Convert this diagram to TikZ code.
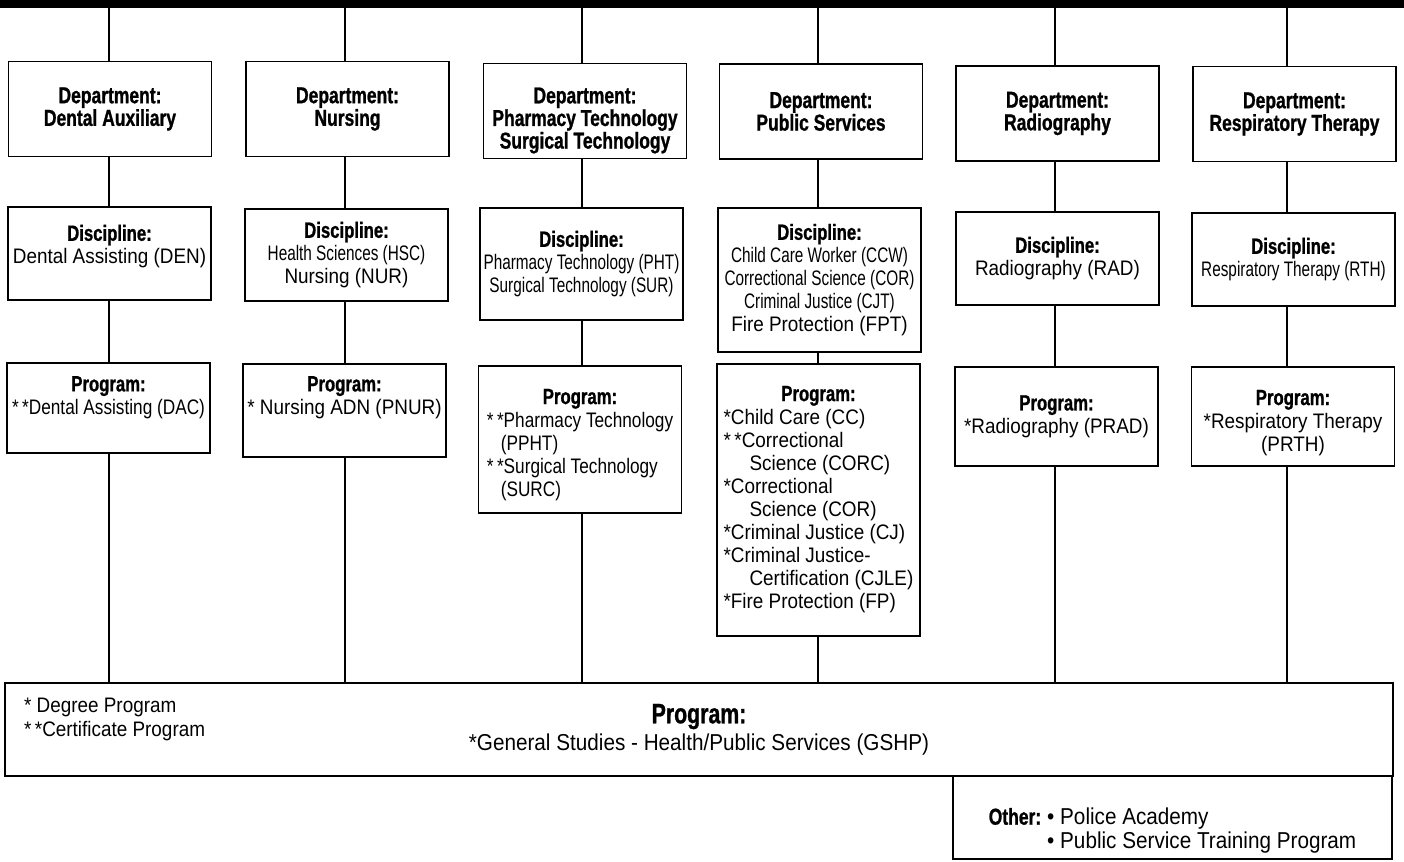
\documentclass[tikz,border=0pt]{standalone}
\usepackage{fontspec}
\setmainfont{Liberation Sans}[FakeStretch=0.9]
\newfontfamily\condfont{Liberation Sans}[FakeStretch=0.82]
\newfontfamily\narrowfont{Liberation Sans}[FakeStretch=0.73]
\newfontfamily\headfont{Liberation Sans}[FakeStretch=0.76,FakeBold=1]
\usetikzlibrary{positioning}
\newcommand{\hd}[1]{{\headfont\bfseries\fontsize{11}{11.5}\selectfont #1}}
\newcommand{\padt}[1]{\rule{0pt}{#1}}
\newcommand{\padb}[1]{\rule[-#1]{0pt}{0pt}}
\begin{document}
\begin{tikzpicture}[x=0.5pt, y=-0.5pt,
  box/.style={draw, line width=0.9pt, inner xsep=1pt, inner ysep=2pt, align=center,
    minimum width=101.5pt, font=\fontsize{10.5}{11.5}\selectfont},
  dept/.style={box, minimum height=47.5pt, font=\headfont\bfseries\fontsize{11.5}{11.3}\selectfont},
  link/.style={line width=0.75pt}]
  \useasboundingbox (0,0) rectangle (1404,862);
  \node[fill, inner sep=0pt, minimum width=702pt, minimum height=3.8pt, anchor=north west] (bar) at (0,0) {};
  % column lines
  \coordinate (col1) at (109,0);
  \coordinate (col2) at (345,0);
  \coordinate (col3) at (582,0);
  \coordinate (col4) at (818,0);
  \coordinate (col5) at (1055,0);
  \coordinate (col6) at (1287,0);
  % departments
  \node[dept] (dep1) at (110,109) {Department:\\Dental Auxiliary};
  \node[dept] (dep2) at (347.5,109) {Department:\\Nursing};
  \node[dept] (dep3) at (585,111) {\padt{17.4pt}Department:\\Pharmacy Technology\\Surgical Technology};
  \node[dept] (dep4) at (821,111.5) {Department:\\Public Services};
  \node[dept] (dep5) at (1057.5,113.5) {Department:\\Radiography};
  \node[dept] (dep6) at (1294.5,114) {Department:\\Respiratory Therapy};
  % disciplines
  \node[box, minimum height=46.5pt] (dis1) at (109.5,253.5) {\hd{Discipline:}\\Dental Assisting (DEN)\padb{9.2pt}};
  \node[box, minimum height=46pt] (dis2) at (346.5,255) {\hd{Discipline:}\\{\narrowfont Health Sciences (HSC)}\\Nursing (NUR)};
  \node[box, minimum height=56pt] (dis3) at (581.5,264) {\hd{Discipline:}\\{\narrowfont Pharmacy Technology (PHT)}\\{\narrowfont Surgical Technology (SUR)}};
  \node[box, minimum height=72pt] (dis4) at (819.5,280) {\hd{Discipline:}\\{\narrowfont Child Care Worker (CCW)}\\{\narrowfont Correctional Science (COR)}\\{\narrowfont Criminal Justice (CJT)}\\Fire Protection (FPT)};
  \node[box, minimum height=46.5pt] (dis5) at (1057.5,258.5) {\hd{Discipline:}\\Radiography (RAD)};
  \node[box, minimum height=46.5pt] (dis6) at (1293.5,259.5) {\hd{Discipline:}\\{\narrowfont Respiratory Therapy (RTH)}};
  % programs
  \node[box, minimum height=45pt] (pro1) at (108.5,408) {\hd{Program:}\\{\condfont{*\,*}Dental Assisting (DAC)}\padb{12.7pt}};
  \node[box, minimum height=46.5pt] (pro2) at (344.5,410.5) {\hd{Program:}\\{*} Nursing ADN (PNUR)\padb{15.2pt}};
  \node[box, minimum height=73.5pt] (pro3) at (580,439.5) {\condfont\begin{tabular}{@{}l@{}}
    \multicolumn{1}{@{}c@{}}{\padt{14pt}\hd{Program:}}\\
    {*\,*}Pharmacy Technology\\
    \hspace{7pt}(PPHT)\\
    {*\,*}Surgical Technology\\
    \hspace{7pt}(SURC)
  \end{tabular}};
  \node[box, minimum height=136pt] (pro4) at (818.5,500) {\begin{tabular}{@{}l@{}}
    \multicolumn{1}{@{}c@{}}{\hd{Program:}}\\
    {*}Child Care (CC)\\
    {*\,*}Correctional\\
    \hspace{13pt}Science (CORC)\\
    {*}Correctional\\
    \hspace{13pt}Science (COR)\\
    {*}Criminal Justice (CJ)\\
    {*}Criminal Justice-\\
    \hspace{13pt}Certification (CJLE)\\
    {*}Fire Protection (FP)
  \end{tabular}};
  \node[box, minimum height=49.5pt] (pro5) at (1056.5,416.5) {\hd{Program:}\\{*}Radiography (PRAD)};
  \node[box, minimum height=49.5pt] (pro6) at (1293,416.5) {\padt{13.7pt}\hd{Program:}\\{*}Respiratory Therapy\\(PRTH)};
  % shared program and legend
  \node[box, minimum width=694pt, minimum height=46.5pt, font=\fontsize{11.5}{13.5}\selectfont] (gsp) at (699,729.5)
    {{\headfont\bfseries\fontsize{14}{14}\selectfont Program:}\\{*}General Studies - Health/Public Services (GSHP)};
  \node[anchor=west, align=left, font=\fontsize{10.5}{12}\selectfont] (legend) at (17,719) {* Degree Program\\{*\,*}Certificate Program};
  \node[box, minimum width=219.5pt, minimum height=41.5pt, font=\fontsize{11.5}{11.5}\selectfont] (other) at (1172.5,817.5)
    {\begin{tabular}{@{}l@{\hspace{3pt}}l@{}}
      \padt{22.4pt}{\headfont\bfseries Other:} & \textbullet~Police Academy\\
      & \textbullet~Public Service Training Program
    \end{tabular}};
  % connectors
  \foreach \i in {1,...,6}{
    \draw[link] (bar.south -| col\i) -- (dep\i.north -| col\i);
    \draw[link] (dep\i.south -| col\i) -- (dis\i.north -| col\i);
    \draw[link] (dis\i.south -| col\i) -- (pro\i.north -| col\i);
    \draw[link] (pro\i.south -| col\i) -- (gsp.north -| col\i);
  }
\end{tikzpicture}
\end{document}
